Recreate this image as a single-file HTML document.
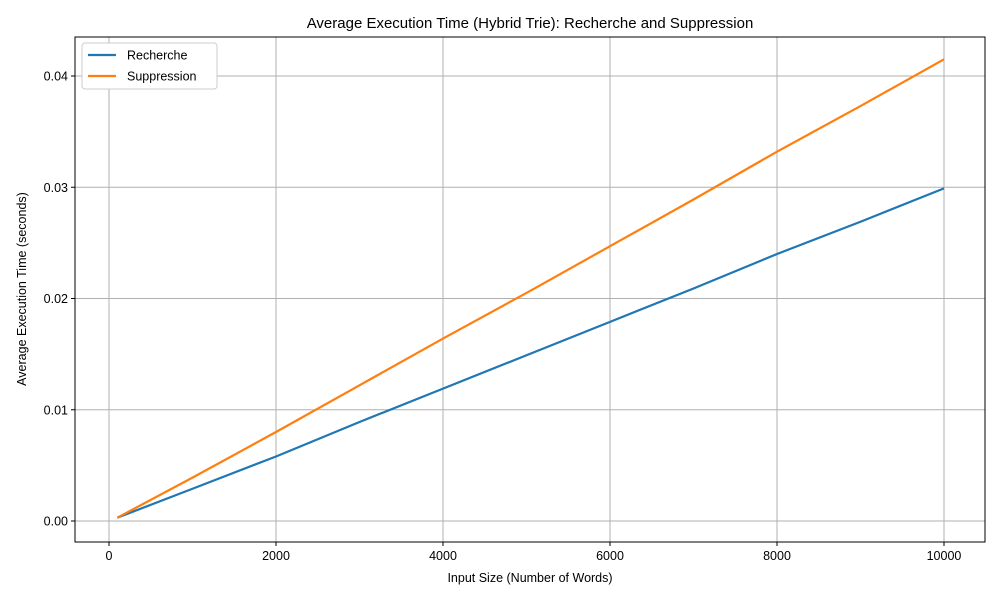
<!DOCTYPE html>
<html><head><meta charset="utf-8"><style>
body{margin:0;background:#fff;font-family:"Liberation Sans","DejaVu Sans",sans-serif;}
</style></head><body>
<svg id="chart" width="1000" height="600" xmlns="http://www.w3.org/2000/svg"></svg>
<script>
const sizes=[100,1000,2000,3000,4000,5000,6000,7000,8000,9000,10000];
const recherche=[0.0003,0.0029,0.0058,0.0089,0.0119,0.0149,0.0179,0.0209,0.0240,0.0269,0.0299];
const suppression=[0.0003,0.0039,0.0080,0.0122,0.0164,0.0205,0.0247,0.0289,0.0332,0.0373,0.0415];
const xTicks=[0,2000,4000,6000,8000,10000];
const yTicks=[0,0.01,0.02,0.03,0.04];
const L=75,R=985,T=37,B=542;
const xs=v=>109+(v/10000)*835;
const ys=v=>521-(v/0.04)*445;
const svg=document.getElementById('chart');
const NS='http://www.w3.org/2000/svg';
function mk(t,a,p){const e=document.createElementNS(NS,t);for(const k in a)e.setAttribute(k,a[k]);(p||svg).appendChild(e);return e;}
xTicks.forEach(v=>{const x=xs(v);
const g=mk('line',{x1:x,x2:x,y1:T,y2:B,stroke:'#b0b0b0','stroke-width':1});


mk('line',{x1:x,x2:x,y1:B,y2:B+4,stroke:'#000'});
const t=mk('text',{x:x,y:B+18,'text-anchor':'middle','font-size':12.5});t.textContent=v;

});
yTicks.forEach(v=>{const y=ys(v);
const g=mk('line',{x1:L,x2:R,y1:y,y2:y,stroke:'#b0b0b0','stroke-width':1});


mk('line',{x1:L-4,x2:L,y1:y,y2:y,stroke:'#000'});
const t=mk('text',{x:L-7,y:y+4.5,'text-anchor':'end','font-size':12.5});t.textContent=v.toFixed(2);

});
function series(vals,color,name){const p=mk('polyline',{points:sizes.map((s,i)=>xs(s)+','+ys(vals[i])).join(' '),fill:'none',stroke:color,'stroke-width':2.2});

}
series(recherche,'#1f77b4','recherche-line');
series(suppression,'#ff7f0e','suppression-line');
const fr=mk('rect',{x:L,y:T,width:R-L,height:B-T,fill:'none',stroke:'#000','stroke-width':1});


const title=mk('text',{x:530,y:28,'text-anchor':'middle','font-size':15});title.textContent='Average Execution Time (Hybrid Trie): Recherche and Suppression';


const xl=mk('text',{x:530,y:582,'text-anchor':'middle','font-size':12.5});xl.textContent='Input Size (Number of Words)';


const yl=mk('text',{x:0,y:0,'text-anchor':'middle','font-size':12.5,transform:'translate(26,289) rotate(-90)'});yl.textContent='Average Execution Time (seconds)';


const lg=mk('g',{});


mk('rect',{x:82,y:43,width:135,height:46,rx:3,fill:'#fff',stroke:'#ccc'},lg);
[['Recherche','#1f77b4',55],['Suppression','#ff7f0e',76]].forEach(([n,c,y])=>{
mk('line',{x1:88,x2:116,y1:y,y2:y,stroke:c,'stroke-width':2.2},lg);
const t=mk('text',{x:127,y:y+4.5,'font-size':12.5},lg);t.textContent=n;

});
</script>
</body></html>
